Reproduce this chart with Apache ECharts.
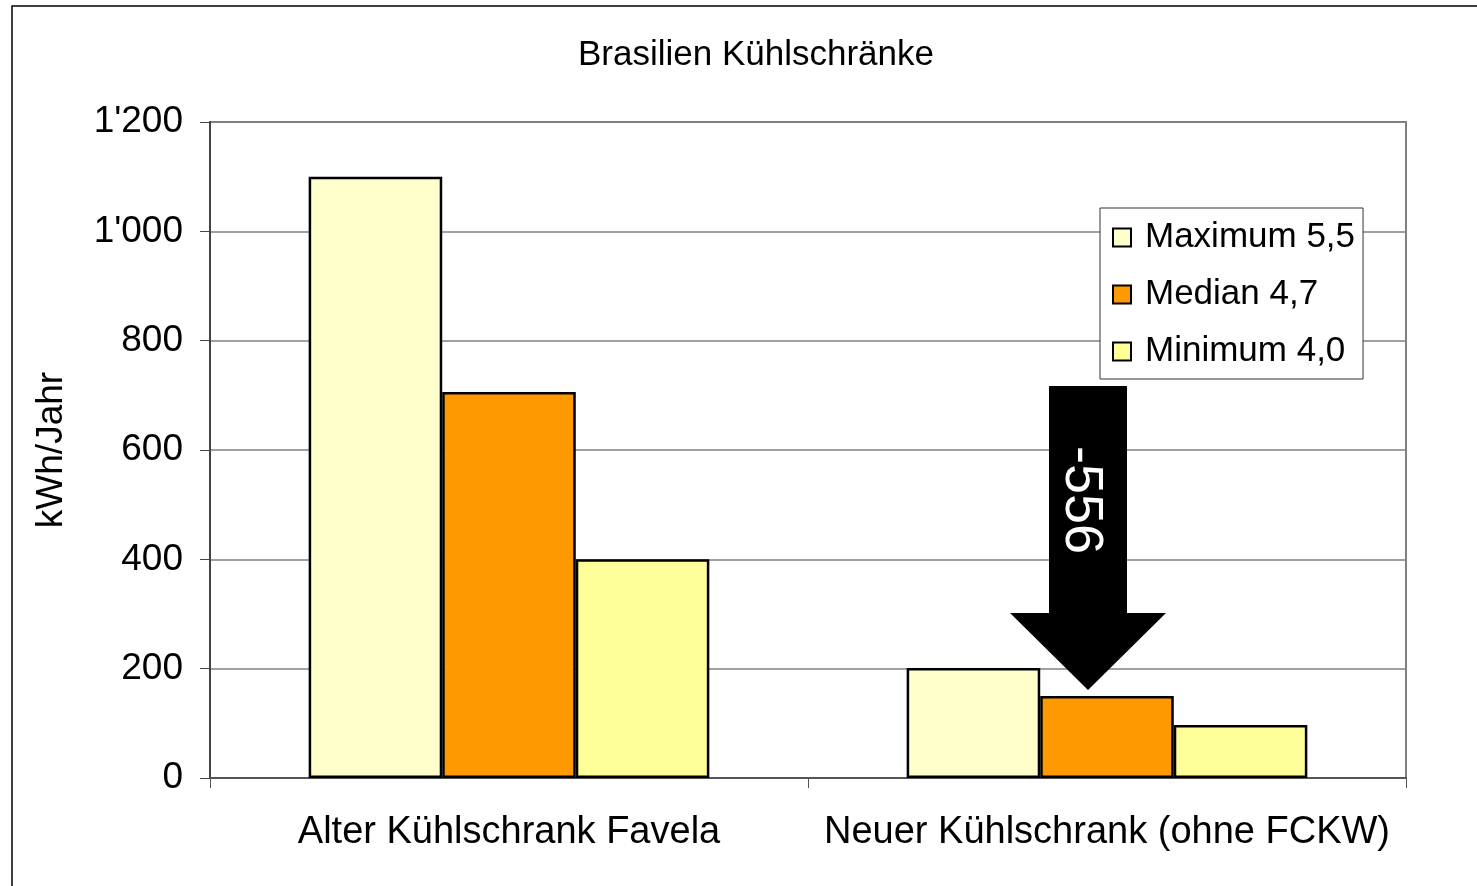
<!DOCTYPE html>
<html>
<head>
<meta charset="UTF-8">
<title>Brasilien Kühlschränke</title>
<script src="https://cdn.jsdelivr.net/npm/echarts@6/dist/echarts.min.js"></script>
<style>
	html, body { margin: 0; padding: 0; background: #fff; }
	#container { width: 1477px; height: 886px; }
</style>
</head>
<body>
	<div id="container"></div>
	<script type="text/javascript">
		// Daten
		var categories = ['Alter Kühlschrank Favela', 'Neuer Kühlschrank (ohne FCKW)'];
		var seriesNames = ['Maximum 5,5', 'Median 4,7', 'Minimum 4,0'];
		var maximum = [1100, 201];
		var median = [706, 150];
		var minimum = [400, 97];
		var colors = ['#FFFFCC', '#FF9900', '#FFFF99'];
		// Pfeil: Kategorie, von, bis, Beschriftung
		var arrow = [1, 717, 161];
		var arrowText = '-556';

		var dom = document.getElementById("container");
		var myChart = echarts.init(dom);
		var fontName = 'Liberation Sans, Arial, sans-serif';

		function fmt(v) {
			var s = String(v);
			if (s.length > 3) {
				s = s.slice(0, s.length - 3) + "'" + s.slice(s.length - 3);
			}
			return s;
		}

		function barSeries(name, data, color) {
			return {
				name : name,
				type : 'bar',
				barGap : '0%',
				barCategoryGap : '33%',
				data : data,
				itemStyle : {
					color : color,
					borderColor : '#000',
					borderWidth : 2.5
				},
				emphasis : { disabled : true },
				animation : false
			};
		}

		var option = {
			textStyle : { fontFamily : fontName },
			title : {
				text : 'Brasilien Kühlschränke',
				left : 578,
				top : 38,
				padding : 0,
				textStyle : { fontFamily : fontName, fontSize : 35, fontWeight : 'normal', color : '#000' }
			},
			legend : {
				orient : 'vertical',
				left : 1100,
				top : 208,
				padding : [ 12, 8, 10, 12 ],
				itemGap : 22,
				itemWidth : 18,
				itemHeight : 18,
				icon : 'rect',
				backgroundColor : '#fff',
				borderColor : '#333',
				borderWidth : 1,
				borderRadius : 0,
				textStyle : { fontFamily : fontName, fontSize : 35, color : '#000', padding : [0, 0, 0, 9] },
				data : seriesNames
			},
			grid : {
				left : 210,
				right : 71,
				top : 122,
				bottom : 108,
				show : true,
				borderColor : '#808080',
				borderWidth : 2,
				containLabel : false
			},
			xAxis : {
				type : 'category',
				data : categories,
				axisLine : { lineStyle : { color : '#555', width : 2 } },
				axisTick : { show : true, length : 10, lineStyle : { color : '#555', width : 1 } },
				axisLabel : { interval : 0, fontFamily : fontName, fontSize : 38, color : '#000', margin : 36 }
			},
			yAxis : {
				type : 'value',
				min : 0,
				max : 1200,
				interval : 200,
				name : 'kWh/Jahr',
				nameLocation : 'middle',
				nameRotate : 90,
				nameGap : 140,
				nameTextStyle : { fontFamily : fontName, fontSize : 37, color : '#000' },
				axisLine : { show : true, lineStyle : { color : '#444', width : 2 } },
				axisTick : { show : true, length : 10, lineStyle : { color : '#444', width : 1 } },
				axisLabel : { fontFamily : fontName, fontSize : 37, color : '#000', margin : 27, formatter : fmt },
				splitLine : { lineStyle : { color : '#808080', width : 1.5 } }
			},
			graphic : [ {
				type : 'rect',
				shape : { x : 12, y : 6, width : 1500, height : 900 },
				style : { fill : 'none', stroke : '#000', lineWidth : 1.5 },
				z : -10
			} ],
			series : [
				barSeries(seriesNames[0], maximum, colors[0]),
				barSeries(seriesNames[1], median, colors[1]),
				barSeries(seriesNames[2], minimum, colors[2]),
				{
					type : 'custom',
					data : [ arrow ],
					encode : { x : 0, y : [ 1, 2 ] },
					z : 5,
					animation : false,
					silent : true,
					renderItem : function(params, api) {
						var top = api.coord([ api.value(0), api.value(1) ]);
						var tip = api.coord([ api.value(0), api.value(2) ]);
						var cx = top[0] - 19;
						var sw = 39, hw = 78, hh = 77;
						var neck = tip[1] - hh;
						return {
							type : 'group',
							children : [ {
								type : 'polygon',
								shape : {
									points : [
										[ cx - sw, top[1] ], [ cx + sw, top[1] ],
										[ cx + sw, neck ], [ cx + hw, neck ],
										[ cx, tip[1] ], [ cx - hw, neck ],
										[ cx - sw, neck ]
									]
								},
								style : { fill : '#000' }
							}, {
								type : 'text',
								x : cx - 7,
								y : top[1] + 114,
								rotation : -Math.PI / 2,
								style : {
									text : arrowText,
									fill : '#fff',
									font : '54px ' + fontName,
									align : 'center',
									verticalAlign : 'middle'
								}
							} ]
						};
					}
				}
			]
		};

		myChart.setOption(option, true);
	</script>
</body>
</html>
